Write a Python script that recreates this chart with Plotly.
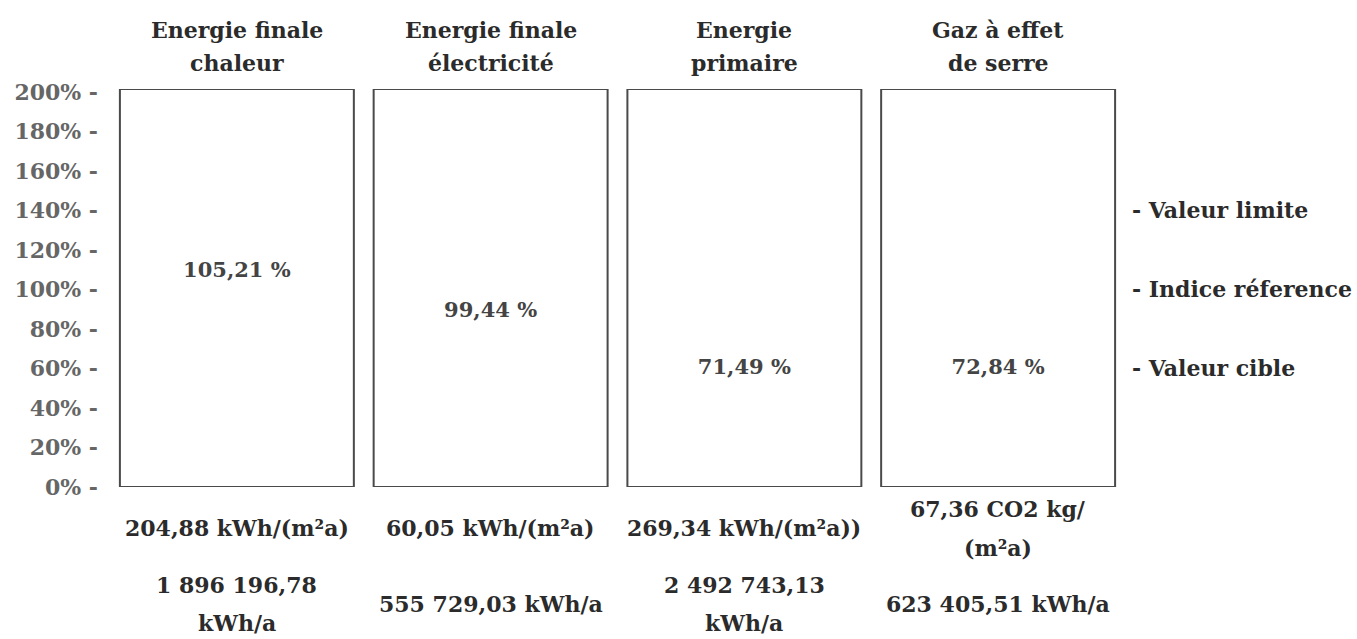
import plotly.graph_objects as go

# ---------------- data ----------------
categories = ["chaleur", "electricite", "primaire", "ges"]
title_lines = [
    ["Energie finale", "chaleur"],
    ["Energie finale", "électricité"],
    ["Energie", "primaire"],
    ["Gaz à effet", "de serre"],
]
index_labels = ["105,21 %", "99,44 %", "71,49 %", "72,84 %"]
index_label_pos = [109, 88.5, 60, 60]          # % position at which each label is printed
specific_lines = [
    ["204,88 kWh/(m²a)"],
    ["60,05 kWh/(m²a)"],
    ["269,34 kWh/(m²a))"],
    ["67,36 CO2 kg/", "(m²a)"],
]
annual_lines = [
    ["1 896 196,78", "kWh/a"],
    ["555 729,03 kWh/a"],
    ["2 492 743,13", "kWh/a"],
    ["623 405,51 kWh/a"],
]
tick_values = [0, 20, 40, 60, 80, 100, 120, 140, 160, 180, 200]
tick_labels = [f"{v}% -" for v in tick_values]
ref_values = [140, 100, 60]
ref_labels = ["- Valeur limite", "- Indice réference", "- Valeur cible"]

# ---------------- style ----------------
FONT = "DejaVu Serif"
DARK = "#2b2b2b"
GREY = "#666666"
MID = "#444444"
FRAME_TOP = 201.5
LINE_GAP = 38
FS = 22

fig = go.Figure()

fig.add_trace(go.Bar(
    x=categories, y=[FRAME_TOP] * len(categories),
    marker=dict(color="white", line=dict(color="#4a4a4a", width=2)),
    hoverinfo="skip", showlegend=False,
))

fig.add_trace(go.Scatter(
    x=categories, y=index_label_pos, mode="text", text=index_labels,
    textfont=dict(family=FONT, size=21, color=MID, weight="bold"),
    textposition="middle center", showlegend=False, hoverinfo="skip",
))

# invisible trace on right axis
fig.add_trace(go.Scatter(x=categories, y=[None] * 4, yaxis="y2",
                         showlegend=False, hoverinfo="skip"))

annotations = []

def add_lines(cat, lines, base_y, center_shift, spacing, size):
    n = len(lines)
    for i, t in enumerate(lines):
        shift = center_shift - (i - (n - 1) / 2) * spacing
        annotations.append(dict(
            x=cat, y=base_y, xref="x", yref="paper", text=t, showarrow=False,
            xanchor="center", yanchor="middle", yshift=shift,
            font=dict(family=FONT, size=size, color=DARK, weight="bold"),
        ))

for c, tl, sl, al in zip(categories, title_lines, specific_lines, annual_lines):
    add_lines(c, tl, 1, 43, 33, FS)
    add_lines(c, sl, 0, -41, 39, FS)
    add_lines(c, al, 0, -117, LINE_GAP, FS)

fig.update_layout(
    width=1357, height=639,
    margin=dict(l=110, r=232, t=89, b=152, autoexpand=False),
    paper_bgcolor="white", plot_bgcolor="white",
    bargap=0.078,
    xaxis=dict(range=[-0.5, 3.5], showticklabels=False, showgrid=False,
               zeroline=False, showline=False, ticks="", automargin=False),
    yaxis=dict(range=[0, FRAME_TOP], tickvals=tick_values, ticktext=tick_labels,
               showgrid=False, zeroline=False, showline=False, ticks="",
               automargin=False,
               tickfont=dict(family=FONT, size=FS, color=GREY, weight="bold"),
               ticklabelstandoff=11),
    yaxis2=dict(range=[0, FRAME_TOP], overlaying="y", side="right",
                tickvals=ref_values, ticktext=ref_labels,
                showgrid=False, zeroline=False, showline=False, ticks="",
                automargin=False,
                tickfont=dict(family=FONT, size=FS, color=DARK, weight="bold"),
                ticklabelstandoff=6),
    annotations=annotations,
)

fig.write_html("out.html", config={"displayModeBar": False})

# remove the default page margin so the figure sits at the window's top-left corner
with open("out.html", encoding="utf-8") as f:
    html = f.read()
html = html.replace("<head>", "<head><style>html,body{margin:0;padding:0;overflow:hidden}</style>", 1)
with open("out.html", "w", encoding="utf-8") as f:
    f.write(html)
